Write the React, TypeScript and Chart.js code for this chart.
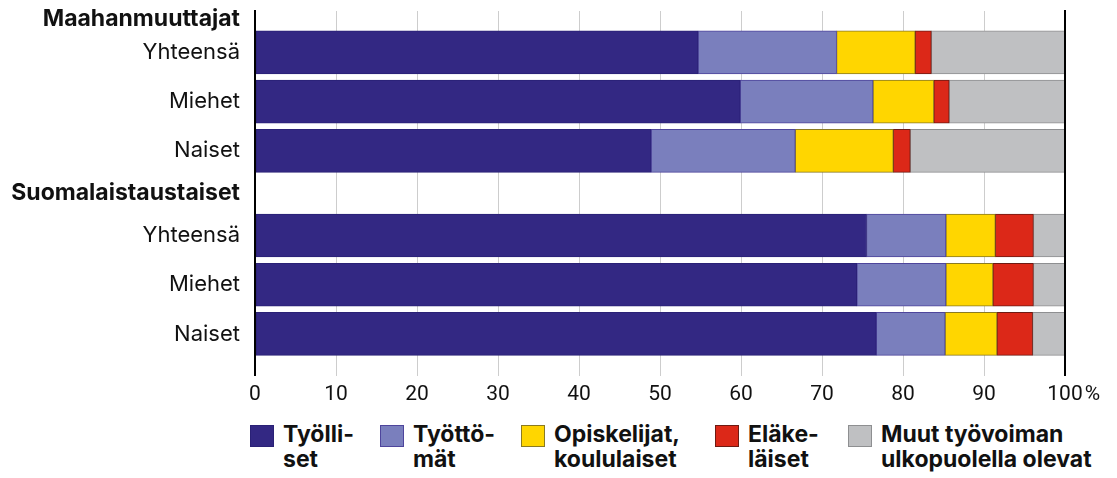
import React, { useEffect, useRef } from "react";
import { Chart, registerables, CategoryScale } from "chart.js";

Chart.register(...registerables);

// ---------- data ----------
const CATEGORIES = [
  "Maahanmuuttajat",
  "Yhteensä",
  "Miehet",
  "Naiset",
  "Suomalaistaustaiset",
  "Yhteensä",
  "Miehet",
  "Naiset",
];
const HEADER_ROWS = [0, 4];

const SERIES_NAMES = [
  "Työlli-\nset",
  "Työttö-\nmät",
  "Opiskelijat,\nkoululaiset",
  "Eläke-\nläiset",
  "Muut työvoiman\nulkopuolella olevat",
];

const TYOLLISET = [null, 54.7, 59.9, 48.9, null, 75.5, 74.3, 76.7];
const TYOTTOMAT = [null, 17.1, 16.4, 17.8, null, 9.8, 11.0, 8.5];
const OPISKELIJAT = [null, 9.7, 7.5, 12.1, null, 6.1, 5.8, 6.4];
const ELAKELAISET = [null, 2.0, 1.9, 2.1, null, 4.7, 5.0, 4.4];
const MUUT = [null, 16.5, 14.3, 19.1, null, 3.9, 3.9, 4.0];

const X_TICKS = [0, 10, 20, 30, 40, 50, 60, 70, 80, 90, 100];

// ---------- styles ----------
const FILLS = ["#332883", "#7a7fbd", "#ffd600", "#dc2818", "#bfc0c2"];
const BORDERS = ["#2a2176", "#4e459c", "#8a7a22", "#6e1a12", "#8e8f91"];
const LEGEND_ITEM_WIDTHS = [130, 141, 194, 133, undefined];

// relative heights of the category rows (header rows are shorter)
const ROW_SPAN = [0.34, 1, 1, 1, 0.72, 1, 1, 1];
const END_SPAN = 0.35;

class RowCategoryScale extends CategoryScale {
  static id = "rowcategory";
  getPixelForValue(value: any, index?: number): number {
    const v = typeof value === "number" ? value : (this as any).parse(value, index);
    if (v === null || v === undefined || isNaN(v)) return NaN;
    const total = ROW_SPAN.reduce((a, b) => a + b, 0) + END_SPAN;
    let acc = 0;
    for (let i = 0; i < v; i++) acc += ROW_SPAN[i];
    acc += ROW_SPAN[v] / 2;
    return this.top + (acc / total) * (this.bottom - this.top);
  }
}
Chart.register(RowCategoryScale as any);

const TICK_FONT = { family: "Roboto", size: 21 };
const TICK_PAD = 6;

const percentPlugin = {
  id: "percentSign",
  afterDraw(chart: any) {
    const xs = chart.scales.x;
    const ctx = chart.ctx;
    ctx.save();
    ctx.font = `${TICK_FONT.size}px ${TICK_FONT.family}`;
    ctx.fillStyle = "#111";
    ctx.textBaseline = "middle";
    ctx.textAlign = "left";
    const x = xs.getPixelForValue(100) + ctx.measureText("100").width / 2 + 2;
    const y = xs.top + TICK_PAD + (TICK_FONT.size * 1.2) / 2;
    ctx.fillText("%", x, y);
    ctx.restore();
  },
};

export default function App() {
  const canvasRef = useRef<HTMLCanvasElement | null>(null);

  useEffect(() => {
    if (!canvasRef.current) return;
    const values = [TYOLLISET, TYOTTOMAT, OPISKELIJAT, ELAKELAISET, MUUT];
    const chart = new Chart(canvasRef.current, {
      type: "bar",
      data: {
        labels: CATEGORIES,
        datasets: values.map((d, i) => ({
          label: SERIES_NAMES[i],
          data: d,
          backgroundColor: FILLS[i],
          borderColor: BORDERS[i],
          borderWidth: 1,
          borderSkipped: false,
          barThickness: 43,
          xAxisID: "x",
          yAxisID: "y",
        })),
      },
      options: {
        indexAxis: "y",
        animation: false,
        responsive: true,
        maintainAspectRatio: false,
        events: [],
        layout: { padding: { top: 3, right: 44, bottom: 0, left: 0 } },
        plugins: {
          legend: { display: false },
          tooltip: { enabled: false },
        },
        scales: {
          x: {
            type: "linear",
            position: "bottom",
            stacked: true,
            min: 0,
            max: 100,
            afterBuildTicks: (s: any) => {
              s.ticks = X_TICKS.map((v) => ({ value: v }));
            },
            afterFit: (s: any) => {
              s.paddingLeft = 0;
              s.paddingRight = 0;
            },
            ticks: {
              color: "#111",
              padding: TICK_PAD,
              font: TICK_FONT,
              callback: (v: any) => String(v),
            },
            grid: {
              drawTicks: false,
              color: (c: any) =>
                c.tick && (c.tick.value === 0 || c.tick.value === 100) ? "#000" : "#cdcdcd",
              lineWidth: (c: any) =>
                c.tick && (c.tick.value === 0 || c.tick.value === 100) ? 2 : 1,
            },
            border: { display: false },
          },
          y: {
            type: "rowcategory" as any,
            position: "left",
            stacked: true,
            afterFit: (s: any) => {
              s.width = 247;
              s.paddingTop = 0;
              s.paddingBottom = 0;
            },
            grid: { display: false, drawTicks: false },
            border: { display: true, color: "#000", width: 2, z: 1 },
            ticks: {
              autoSkip: false,
              padding: 15,
              color: "#111",
              font: (c: any) =>
                HEADER_ROWS.includes(c.index)
                  ? { family: "Inter", size: 23, weight: "bold" }
                  : { family: "Inter", size: 22, weight: "normal" },
            },
          },
          y2: {
            type: "category",
            labels: CATEGORIES,
            position: "right",
            afterFit: (s: any) => {
              s.paddingTop = 0;
              s.paddingBottom = 0;
            },
            grid: { display: false, drawTicks: false },
            ticks: { display: false },
            border: { display: true, color: "#000", width: 2, z: 1 },
          },
        } as any,
      },
      plugins: [percentPlugin],
    } as any);
    return () => chart.destroy();
  }, []);

  return (
    <div style={{ fontFamily: "Inter, Roboto, sans-serif", color: "#111" }}>
      <div style={{ position: "relative", width: 1101, height: 405 }}>
        <canvas ref={canvasRef} />
      </div>
      <div style={{ display: "flex", marginLeft: 242, marginTop: 9 }}>
        {SERIES_NAMES.map((name, i) => (
          <div
            key={i}
            style={{
              display: "flex",
              alignItems: "flex-start",
              width: LEGEND_ITEM_WIDTHS[i],
              flex: "none",
            }}
          >
            <span
              style={{
                display: "inline-block",
                width: 24,
                height: 22,
                marginTop: 3,
                boxSizing: "border-box",
                background: FILLS[i],
                border: `1px solid ${BORDERS[i]}`,
                flex: "none",
              }}
            />
            <span
              style={{
                marginLeft: 9,
                fontWeight: 700,
                fontSize: 23,
                lineHeight: "25px",
                whiteSpace: "pre",
              }}
            >
              {name}
            </span>
          </div>
        ))}
      </div>
    </div>
  );
}
